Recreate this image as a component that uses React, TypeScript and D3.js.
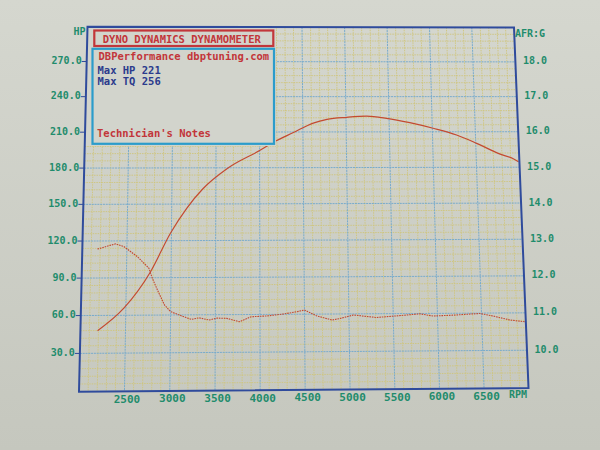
import React from "react";
import * as d3 from "d3";

// ---- axis ticks ----
const rpmTicks = [2500, 3000, 3500, 4000, 4500, 5000, 5500, 6000, 6500];
const hpTicks = [30, 60, 90, 120, 150, 180, 210, 240, 270];
const afrTicks = [10, 11, 12, 13, 14, 15, 16, 17, 18];

// ---- power curve (HP) ----
const hpRpm = [2190, 2480, 2770, 2990, 3170, 3350, 3630, 4010, 4150, 4390, 4620, 4780, 5010, 5240, 5470, 5740, 6010, 6280, 6510, 6780, 6930, 6990];
const hpValues = [47.9, 65.9, 94.9, 126.3, 146.5, 162.4, 179.4, 194.8, 201.0, 209.5, 217.5, 220.7, 222.4, 223.3, 221.5, 217.8, 213.0, 207.3, 200.2, 191.0, 187.2, 184.6];

// ---- air/fuel ratio curve ----
const afrRpm = [2170, 2370, 2470, 2620, 2750, 2790, 2850, 2930, 3000, 3150, 3230, 3320, 3430, 3520, 3630, 3770, 3900, 4080, 4270, 4420, 4500, 4640, 4810, 4900, 5050, 5310, 5540, 5800, 5950, 6180, 6480, 6630, 6820, 6990];
const afrValues = [12.78, 12.92, 12.84, 12.57, 12.26, 11.99, 11.67, 11.27, 11.09, 10.95, 10.88, 10.92, 10.86, 10.91, 10.9, 10.81, 10.94, 10.96, 11.01, 11.07, 11.11, 10.95, 10.84, 10.88, 10.97, 10.9, 10.94, 10.99, 10.93, 10.95, 10.99, 10.92, 10.81, 10.76];

// ---- texts ----
const headerTitle = "DYNO DYNAMICS DYNAMOMETER";
const shopLine = "DBPerformance dbptuning.com";
const maxLines = ["Max HP 221", "Max TQ 256"];
const notesLine = "Technician's Notes";

// photo keystone: corners of the plot frame (TL, TR, BR, BL)
const corners: [number, number][] = [
  [87.5, 26.7],
  [514, 27.5],
  [528.5, 388],
  [79, 391.7],
];

function makeHomography(q: [number, number][]) {
  const [[x0, y0], [x1, y1], [x2, y2], [x3, y3]] = q;
  const dx1 = x1 - x2, dx2 = x3 - x2, dx3 = x0 - x1 + x2 - x3;
  const dy1 = y1 - y2, dy2 = y3 - y2, dy3 = y0 - y1 + y2 - y3;
  const den = dx1 * dy2 - dx2 * dy1;
  const g = (dx3 * dy2 - dx2 * dy3) / den;
  const h = (dx1 * dy3 - dx3 * dy1) / den;
  const a = x1 - x0 + g * x1, b = x3 - x0 + h * x3, c = x0;
  const d = y1 - y0 + g * y1, e = y3 - y0 + h * y3, f = y0;
  return (u: number, v: number): [number, number] => {
    const w = g * u + h * v + 1;
    return [(a * u + b * v + c) / w, (d * u + e * v + f) / w];
  };
}

const proj = makeHomography(corners);

const xScale = d3.scaleLinear().domain([2000, 7000]).range([0, 1]);
const hpScale = d3.scaleLinear().domain([0, 300]).range([1, 0]);
const afrScale = d3.scaleLinear().domain([9, 19]).range([1, 0]);

const MONO = "'DejaVu Sans Mono', 'Liberation Mono', monospace";
const GREEN = "#1f8c6c";
const RED = "#c2363a";
const NAVY = "#2b3b8c";
const FRAME = "#2f4b9c";
const CURVE = "#c44a30";

export default function App() {
  const hpData = hpRpm.map((r, i) => proj(xScale(r), hpScale(hpValues[i])));
  const afrData = afrRpm.map((r, i) => proj(xScale(r), afrScale(afrValues[i])));

  const hpLine = d3.line().curve(d3.curveMonotoneX)(hpData as any) || "";
  const afrLine = d3.line()(afrData as any) || "";

  const minorRpm = d3.range(2100, 7000, 100).filter((r) => r % 500 !== 0);
  const minorHp = d3.range(6, 300, 6).filter((h) => h % 30 !== 0);

  const seg = (p: [number, number], q: [number, number]) => `M${p[0]},${p[1]}L${q[0]},${q[1]}`;

  const minorPath =
    minorRpm.map((r) => seg(proj(xScale(r), 0), proj(xScale(r), 1))).join("") +
    minorHp.map((h) => seg(proj(0, hpScale(h)), proj(1, hpScale(h)))).join("");
  const majorPath =
    rpmTicks.map((r) => seg(proj(xScale(r), 0), proj(xScale(r), 1))).join("") +
    hpTicks.map((h) => seg(proj(0, hpScale(h)), proj(1, hpScale(h)))).join("");

  const framePts = [proj(0, 0), proj(1, 0), proj(1, 1), proj(0, 1)];
  const frameD = "M" + framePts.map((p) => p.join(",")).join("L") + "Z";

  const tl = proj(0, 0);
  const tr = proj(1, 0);
  const br = proj(1, 1);

  return (
    <svg
      width={600}
      height={450}
      style={{ position: "absolute", left: 0, top: 0, display: "block" }}
      fontFamily={MONO}
    >
      <defs>
        <linearGradient id="paper" x1="0" y1="0" x2="0" y2="1">
          <stop offset="0" stopColor="#d5d7cf" />
          <stop offset="1" stopColor="#c5c7be" />
        </linearGradient>
      </defs>
      <rect x={0} y={0} width={600} height={450} fill="url(#paper)" />

      {/* grid */}
      <path d={minorPath} stroke="#cfc57c" strokeWidth={0.9} strokeDasharray="1.5,1" fill="none" />
      <path d={majorPath} stroke="#78abcc" strokeWidth={1} strokeDasharray="2,0.8" fill="none" />

      {/* curves */}
      <path d={afrLine} stroke={CURVE} strokeWidth={1.1} strokeDasharray="1.6,0.9" fill="none" />
      <path d={hpLine} stroke={CURVE} strokeWidth={1.2} fill="none" />

      {/* header panel */}
      <rect x={85} y={27} width={191} height={119} fill="#d2d4cc" />
      <rect x={94.3} y={30.5} width={179} height={15.5} fill="none" stroke={RED} strokeWidth={2.2} />
      <text x={181.8} y={38.6} textAnchor="middle" dominantBaseline="central" fontSize={10.5} fontWeight="bold" fill={RED}>
        {headerTitle}
      </text>
      <rect x={92.5} y={48.8} width={181.5} height={95} fill="none" stroke="#2b9ccb" strokeWidth={2.2} />
      <text x={98.5} y={56.3} dominantBaseline="central" fontSize={10.5} fontWeight="bold" fill={RED}>
        {shopLine}
      </text>
      {maxLines.map((t, i) => (
        <text key={t} x={97.5} y={70 + i * 11.2} dominantBaseline="central" fontSize={10.5} fontWeight="bold" fill={NAVY}>
          {t}
        </text>
      ))}
      <text x={97} y={133.3} dominantBaseline="central" fontSize={10.5} fontWeight="bold" fill={RED}>
        {notesLine}
      </text>

      {/* frame */}
      <path d={frameD} stroke={FRAME} strokeWidth={2} fill="none" />

      {/* left axis (HP) */}
      {hpTicks.map((h) => {
        const p = proj(0, hpScale(h));
        return (
          <g key={"hp" + h}>
            <line x1={p[0] - 5} x2={p[0]} y1={p[1]} y2={p[1]} stroke={FRAME} strokeWidth={1} />
            <text x={p[0] - 5} y={p[1] - 1} textAnchor="end" dominantBaseline="central" fontSize={10} fontWeight="bold" fill={GREEN}>
              {d3.format(".1f")(h)}
            </text>
          </g>
        );
      })}
      <text x={tl[0] - 2} y={tl[1] + 5} textAnchor="end" dominantBaseline="central" fontSize={10} fontWeight="bold" fill={GREEN}>
        HP
      </text>

      {/* right axis (AFR) */}
      {afrTicks.map((a) => {
        const p = proj(1, afrScale(a));
        return (
          <text key={"afr" + a} x={p[0] + 7.5} y={p[1] - 1} dominantBaseline="central" fontSize={10} fontWeight="bold" fill={GREEN}>
            {d3.format(".1f")(a)}
          </text>
        );
      })}
      <text x={tr[0] + 1} y={tr[1] + 5.5} dominantBaseline="central" fontSize={10} fontWeight="bold" fill={GREEN}>
        AFR:G
      </text>

      {/* bottom axis (RPM) */}
      {rpmTicks.map((r) => {
        const p = proj(xScale(r), 1);
        return (
          <text key={"rpm" + r} x={p[0] + 2.5} y={p[1] + 8} textAnchor="middle" dominantBaseline="central" fontSize={11} fontWeight="bold" fill={GREEN}>
            {r}
          </text>
        );
      })}
      <text x={br[0] - 1.5} y={br[1] + 6.5} textAnchor="end" dominantBaseline="central" fontSize={10} fontWeight="bold" fill={GREEN}>
        RPM
      </text>
    </svg>
  );
}
